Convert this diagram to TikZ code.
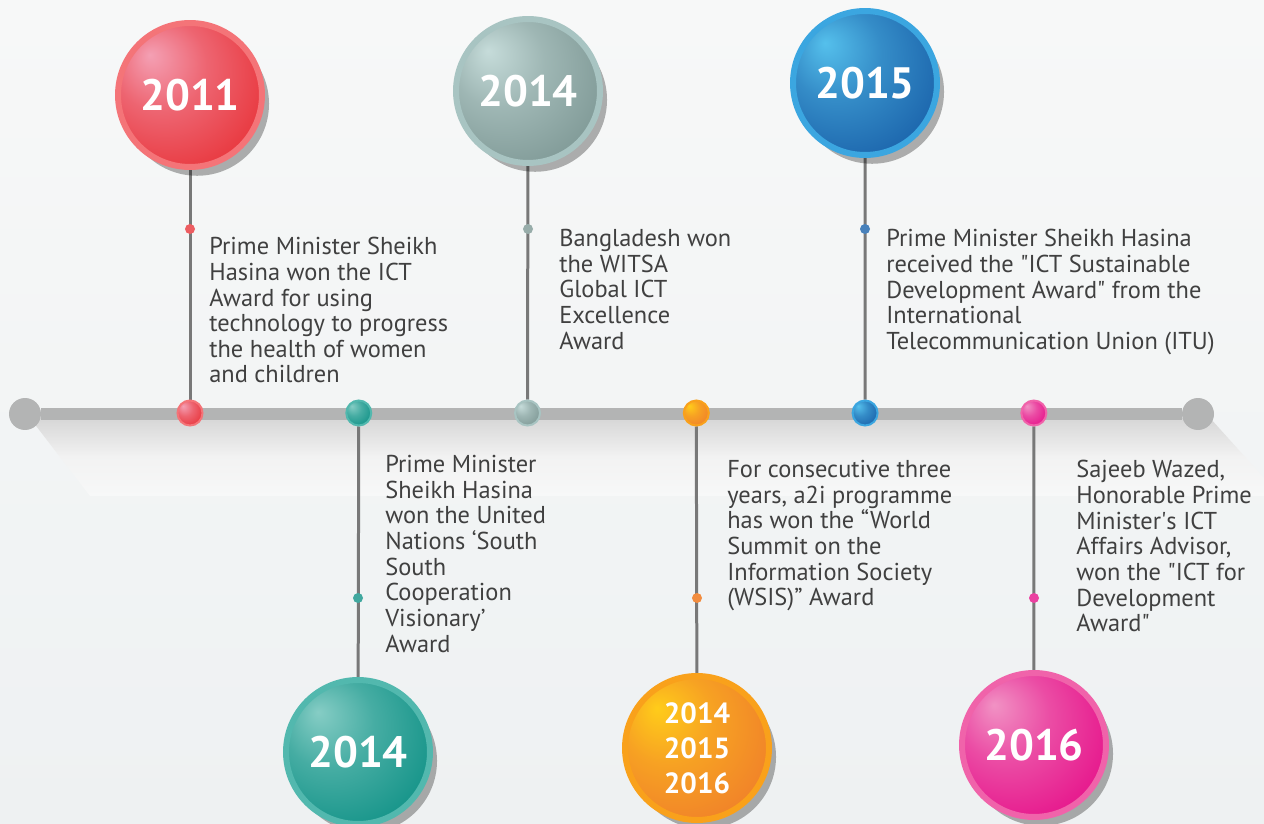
\documentclass[tikz,border=0pt]{standalone}
\usepackage{fontspec}
\setmainfont{PT Sans}
\usetikzlibrary{positioning, shadows}
\definecolor{pagebg}{HTML}{F7F8F8}
\definecolor{pagebgb}{HTML}{EEF1F2}
\definecolor{bargray}{HTML}{B3B4B4}
\definecolor{stemgray}{HTML}{787878}
\definecolor{txtgray}{HTML}{404040}
% ring, highlight, body colours of the balls
\definecolor{redR}{HTML}{F47478}\definecolor{redH}{HTML}{F4A0B4}\definecolor{redL}{HTML}{E8343A}
\definecolor{sageR}{HTML}{A8C4C2}\definecolor{sageH}{HTML}{C6DCDA}\definecolor{sageL}{HTML}{7E9895}
\definecolor{blueR}{HTML}{3BA6E0}\definecolor{blueH}{HTML}{55C0EC}\definecolor{blueL}{HTML}{1A62AA}
\definecolor{tealR}{HTML}{52B8AE}\definecolor{tealH}{HTML}{86CDC5}\definecolor{tealL}{HTML}{119287}
\definecolor{orgR}{HTML}{F9A11B}\definecolor{orgH}{HTML}{FFCC1A}\definecolor{orgL}{HTML}{F07F2A}
\definecolor{pinkR}{HTML}{F063AA}\definecolor{pinkH}{HTML}{F192C4}\definecolor{pinkL}{HTML}{E6128A}
\colorlet{ballhi}{redH}\colorlet{ballmid}{redL}\colorlet{balllo}{redL}
\pgfdeclareradialshading[ballhi,ballmid,balllo]{yearball}{\pgfpoint{-14bp}{14bp}}{%
  color(0bp)=(ballhi); color(16bp)=(ballmid); color(36bp)=(balllo); color(60bp)=(balllo)}
\pgfdeclarelayer{bg}
\pgfdeclarelayer{lines}
\pgfsetlayers{bg,lines,main}
\newcommand{\dq}{\textquotedbl}
\newcommand{\sq}{\textquotesingle}
\tikzset{
ballcol/.code n args={2}{\colorlet{ballhi}{#1}\colorlet{balllo}{#2}\colorlet{ballmid}{#1!45!#2}},
yearball/.style n args={3}{circle, minimum size=2.88cm, inner sep=0pt, draw=#1, line width=0.12cm,
  ballcol={#2}{#3}, shading=yearball,
  drop shadow={shadow xshift=4pt, shadow yshift=-5pt, opacity=0.3, fill=black},
  text=white, font=\bfseries\fontsize{25}{26}\selectfont}, % big year balls
bardot/.style n args={3}{circle, minimum size=0.5cm, inner sep=0pt, draw=#1, line width=0.04cm,
  ballcol={#2}{#3}, shading=yearball},
stemdot/.style={circle, minimum size=0.2cm, inner sep=0pt, fill=#1},
barcap/.style={circle, minimum size=0.64cm, inner sep=0pt, fill=bargray},
stem/.style={stemgray, line width=0.06cm},
award/.style={anchor=north west, align=left, inner sep=0pt, text=txtgray,
  font=\fontsize{13.9}{14.6}\selectfont},
}
\begin{document}
\begin{tikzpicture}[x=0.02cm, y=-0.02cm, node distance=3.376cm]
\useasboundingbox (0,0) rectangle (1264,824);
\begin{pgfonlayer}{bg}
  \shade[top color=pagebg, bottom color=pagebgb] (0,0) rectangle (1264,824);
  % shadow under the bar
  \shade[top color=black!16, bottom color=pagebg, middle color=black!5]
    (30,418) -- (1210,418) -- (1264,478) -- (1264,496) -- (90,496) -- cycle;
\end{pgfonlayer}

% timeline
\node[barcap] (capL) at (25,414) {};
\node[barcap] (capR) at (1198,414) {};
\node[bardot={redR}{redH}{redL}] (b1) at (190,413) {};
\node[bardot={tealR}{tealH}{tealL}, right of=b1] (b2) {};
\node[bardot={sageR}{sageH}{sageL}, right of=b2] (b3) {};
\node[bardot={orgR}{orgH}{orgL}, right of=b3] (b4) {};
\node[bardot={blueR}{blueH}{blueL}, right of=b4] (b5) {};
\node[bardot={pinkR}{pinkH}{pinkL}, right of=b5] (b6) {};

% year balls
\node[yearball={redR}{redH}{redL}] (y11) at (190,95) {2011};
\node[yearball={sageR}{sageH}{sageL}] (y14) at (528,91) {2014};
\node[yearball={blueR}{blueH}{blueL}] (y15) at (865,83) {2015};
\node[yearball={tealR}{tealH}{tealL}] (y14b) at (358,752) {2014};
\node[yearball={orgR}{orgH}{orgL}, align=center,
  font=\bfseries\fontsize{16.6}{19.9}\selectfont] (y1416) at (697,748) {2014\\2015\\2016};
\node[yearball={pinkR}{pinkH}{pinkL}] (y16) at (1034,745) {2016};

\begin{pgfonlayer}{lines}
  \draw[bargray, line width=0.24cm] (capL) -- (capR);
  \draw[stem] (y11) -- (b1);
  \draw[stem] (y14) -- (b3);
  \draw[stem] (y15) -- (b5);
  \draw[stem] (b2) -- (y14b);
  \draw[stem] (b4) -- (y1416);
  \draw[stem] (b6) -- (y16);
\end{pgfonlayer}

\node[stemdot=redL!80] (d1) at (190,229) {};
\node[stemdot=sageL!80] (d3) at (528,229) {};
\node[stemdot=blueL!80] (d5) at (865,229) {};
\node[stemdot=tealL!80] (d2) at (358,598) {};
\node[stemdot=orgL!90] (d4) at (697,598) {};
\node[stemdot=pinkL!80] (d6) at (1034,598) {};

% award texts
\node[award] (t1) at (209,237) {Prime Minister Sheikh\\Hasina won the ICT\\Award for using\\technology to progress\\the health of women\\and children};
\node[award] (t3) at (559,229) {Bangladesh won\\the WITSA\\Global ICT\\Excellence\\Award};
\node[award] (t5) at (886,229) {Prime Minister Sheikh Hasina\\received the \dq ICT Sustainable\\Development Award\dq{} from the\\International\\Telecommunication Union (ITU)};
\node[award] (t2) at (385,455) {Prime Minister\\Sheikh Hasina\\won the United\\Nations ‘South\\South\\Cooperation\\Visionary’\\Award};
\node[award] (t4) at (727,460) {For consecutive three\\years, a2i programme\\has won the “World\\Summit on the\\Information Society\\(WSIS)” Award};
\node[award] (t6) at (1076,460) {Sajeeb Wazed,\\Honorable Prime\\Minister\sq s ICT\\Affairs Advisor,\\won the \dq ICT for\\Development\\Award\dq};
\end{tikzpicture}
\end{document}
